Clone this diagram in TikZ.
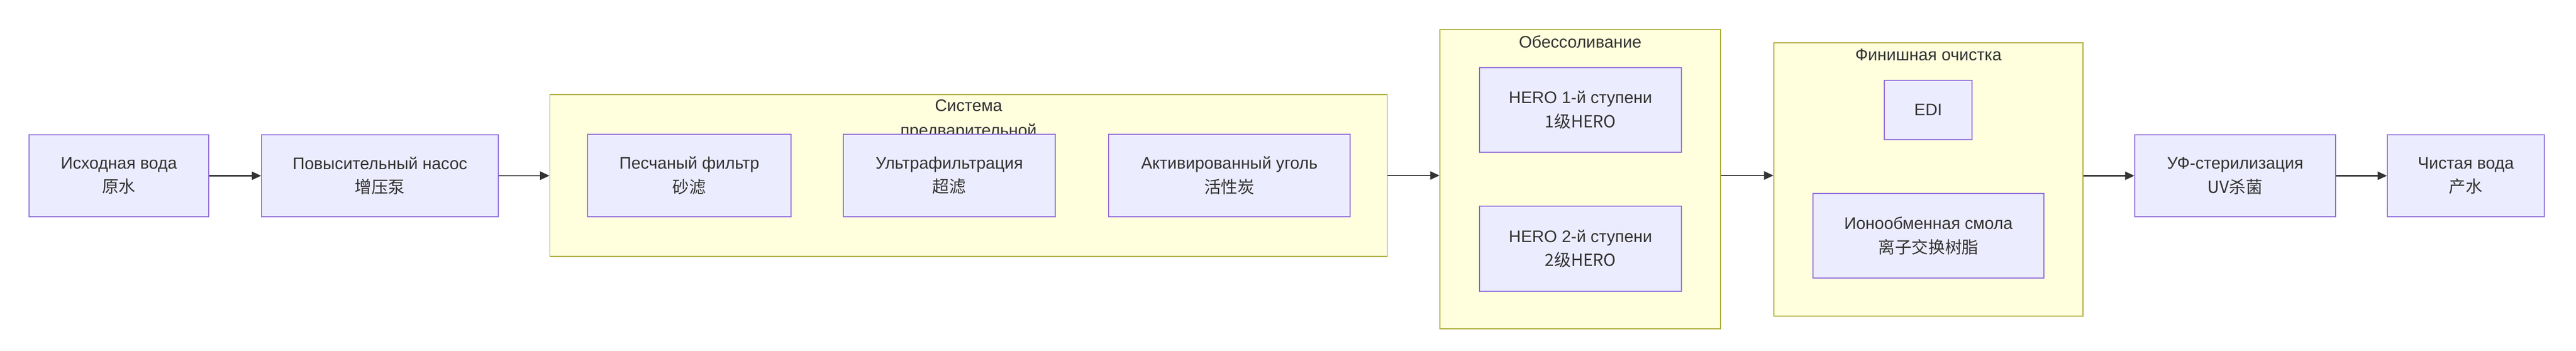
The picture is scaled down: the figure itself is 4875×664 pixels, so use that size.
\documentclass[tikz,border=0pt]{standalone}
\usepackage{fontspec}
\setmainfont{Liberation Sans}
\newfontfamily\cjk{Noto Sans CJK SC}
\usetikzlibrary{arrows.meta}
\definecolor{nodefill}{HTML}{ECECFF}
\definecolor{nodeline}{HTML}{9370DB}
\definecolor{groupfill}{HTML}{FFFFDE}
\definecolor{groupline}{HTML}{AAAA33}
\definecolor{ink}{HTML}{333333}
\tikzset{
	procbox/.style={rectangle,draw=nodeline,fill=nodefill,line width=0.45pt,text=ink,align=center,font=\fontsize{9}{13}\selectfont,inner sep=0pt},
	groupbox/.style={rectangle,draw=groupline,fill=groupfill,line width=0.45pt,inner sep=0pt},
	grouptitle/.style={text=ink,align=center,font=\fontsize{9}{13.5}\selectfont},
	flow/.style={draw=ink,line width=0.6pt,-{Triangle[length=5pt,width=4.5pt]}}
}
\begin{document}
\begin{tikzpicture}[x=0.01cm,y=-0.01cm]
		\useasboundingbox (0,0) rectangle (4875,664);
		% groups
		\node[groupbox,minimum width=15.84cm,minimum height=3.06cm] (pre) at (1833,332) {};
		\node[groupbox,minimum width=5.31cm,minimum height=5.66cm] (desalt) at (2990.5,339) {};
		\node[groupbox,minimum width=5.85cm,minimum height=5.17cm] (polish) at (3649.5,339.5) {};
		\node[grouptitle] (pretitle) at (1833,226) {Система\\предварительной};
		\node[grouptitle] (desalttitle) at (2990.5,79) {Обессоливание};
		\node[grouptitle] (polishtitle) at (3649.5,104) {Финишная очистка};
		% main line
		\node[procbox,minimum width=3.4cm,minimum height=1.55cm] (raw) at (225,332.5) {Исходная вода\\{\cjk 原水}};
		\node[procbox,minimum width=4.48cm,minimum height=1.55cm] (pump) at (719,332.5) {Повысительный насос\\{\cjk 增压泵}};
		\node[procbox,minimum width=3.85cm,minimum height=1.56cm] (sand) at (1304.5,332) {Песчаный фильтр\\{\cjk 砂滤}};
		\node[procbox,minimum width=4.01cm,minimum height=1.56cm] (uf) at (1796.5,332) {Ультрафильтрация\\{\cjk 超滤}};
		\node[procbox,minimum width=4.57cm,minimum height=1.56cm] (carbon) at (2326.5,332) {Активированный уголь\\{\cjk 活性炭}};
		\node[procbox,minimum width=3.82cm,minimum height=1.60cm] (hero1) at (2991,208) {HERO 1-й ступени\\{\cjk 1级HERO}};
		\node[procbox,minimum width=3.82cm,minimum height=1.61cm] (hero2) at (2991,470.5) {HERO 2-й ступени\\{\cjk 2级HERO}};
		\node[procbox,minimum width=1.66cm,minimum height=1.12cm] (edi) at (3649,208) {EDI};
		\node[procbox,minimum width=4.37cm,minimum height=1.60cm] (resin) at (3649.5,446) {Ионообменная смола\\{\cjk 离子交换树脂}};
		\node[procbox,minimum width=3.8cm,minimum height=1.55cm] (uv) at (4230,332.5) {УФ-стерилизация\\{\cjk UV杀菌}};
		\node[procbox,minimum width=2.97cm,minimum height=1.55cm] (pure) at (4666.5,332.5) {Чистая вода\\{\cjk 产水}};
		% connectors
		\draw[flow] (raw)--(pump);
		\draw[flow] (pump)--(pre);
		\draw[flow] (pre)--(desalt.west|-pre.east);
		\draw[flow] (desalt.east|-pre.east)--(polish.west|-pre.east);
		\draw[flow] (polish.east|-uv.west)--(uv);
		\draw[flow] (uv)--(pure);
\end{tikzpicture}
\end{document}
